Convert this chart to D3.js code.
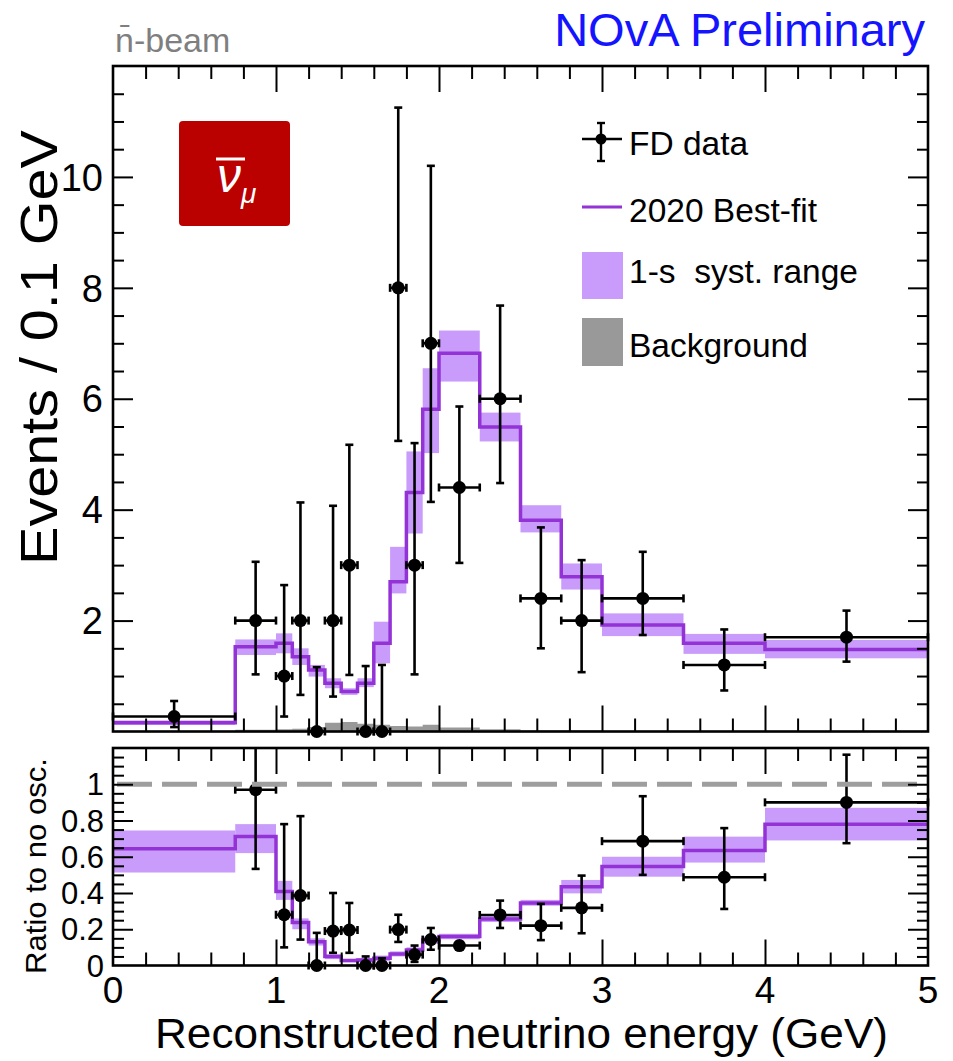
<!DOCTYPE html>
<html><head><meta charset="utf-8">
<script src="https://cdn.jsdelivr.net/npm/d3@7"></script>
<style>
body{margin:0;background:#fff}
svg{display:block}
text{font-family:"Liberation Sans",Arial,Helvetica,sans-serif}
</style>
</head><body>
<svg id="c" width="953" height="1061"></svg>
<script>
// ---------- data ----------
const binEdges = [0,0.75,1.0,1.1,1.2,1.3,1.4,1.5,1.6,1.7,1.8,1.9,2.0,2.25,2.5,2.75,3.0,3.5,4.0,5.0];
const bestFit  = [0.16,1.53,1.59,1.35,1.11,0.87,0.72,0.87,1.59,2.70,4.31,5.81,6.82,5.49,3.81,2.79,1.92,1.59,1.48];
const bandLo   = [0.12,1.38,1.41,1.20,0.99,0.78,0.66,0.80,1.23,2.49,3.57,5.02,6.31,5.23,3.59,2.56,1.72,1.40,1.32];
const bandHi   = [0.20,1.66,1.77,1.50,1.20,0.96,0.78,0.96,1.98,3.33,5.05,6.55,7.23,5.75,4.08,3.03,2.13,1.76,1.65];
const background = [0.01,0.03,0.04,0.05,0.08,0.16,0.17,0.14,0.12,0.10,0.09,0.12,0.07,0.04,0.02,0.02,0.01,0.01,0.005];

const dataX    = [0.375,0.875,1.05,1.15,1.25,1.35,1.45,1.55,1.65,1.75,1.85,1.95,2.125,2.375,2.625,2.875,3.25,3.75,4.5];
const dataY    = [0.27,2,1,2,0,2,3,0,0,8,3,7,4.4,6,2.4,2,2.4,1.2,1.7];
const dataLo   = [0.08,1.03,0.27,0.66,0,0.63,1.02,0,0,5.24,1.03,4.14,3.04,4.48,1.50,1.07,1.74,0.74,1.26];
const dataHi   = [0.55,3.06,2.64,4.13,1.16,4.07,5.17,1.18,1.20,11.25,5.20,10.2,5.86,7.68,3.68,3.09,3.24,1.84,2.18];

const ratioFit = [0.644,0.712,0.408,0.237,0.131,0.049,0.027,0.030,0.040,0.064,0.086,0.141,0.160,0.257,0.345,0.435,0.546,0.634,0.780];
const ratioLo  = [0.513,0.620,0.362,0.200,0.110,0.035,0.018,0.020,0.025,0.050,0.070,0.120,0.145,0.240,0.330,0.398,0.490,0.568,0.690];
const ratioHi  = [0.745,0.780,0.467,0.260,0.150,0.062,0.036,0.040,0.055,0.078,0.100,0.160,0.175,0.272,0.362,0.472,0.600,0.711,0.870];

const ratioX   = [0.875,1.05,1.15,1.25,1.35,1.45,1.55,1.65,1.75,1.85,1.95,2.125,2.375,2.625,2.875,3.25,3.75,4.5];
const ratioY   = [0.97,0.28,0.386,0,0.19,0.196,0,0,0.198,0.06,0.143,0.11,0.279,0.22,0.318,0.686,0.487,0.90];
const ratioELo = [0.533,0.10,0.143,0,0.07,0.07,0,0,0.13,0.02,0.087,0.09,0.207,0.14,0.178,0.50,0.312,0.675];
const ratioEHi = [1.40,0.78,0.824,0.18,0.40,0.345,0.05,0.04,0.28,0.11,0.207,0.13,0.358,0.34,0.496,0.934,0.758,1.163];

const xTickLabels = ["0","1","2","3","4","5"];
const yTopLabels = [2,4,6,8,10];
const yBotLabels = [0,0.2,0.4,0.6,0.8,1];

// ---------- layout ----------
const svg = d3.select("#c");
const L=113, R=928, T1=66, B1=731.5, T2=748, B2=965.5;
const x  = d3.scaleLinear().domain([0,5]).range([L,R]);
const y1 = d3.scaleLinear().domain([0,12]).range([B1,T1]);
const y2 = d3.scaleLinear().domain([0,1.2]).range([B2,T2]);

const purple = "#9333d6", bandCol = "#c99cfb", gray = "#999999";

function binIdx(){ return d3.range(binEdges.length-1); }

function drawHist(g, y, vals, lo, hi, bg) {
  g.selectAll(null).data(binIdx()).join("rect")
    .attr("x", i=>x(binEdges[i])).attr("width", i=>x(binEdges[i+1])-x(binEdges[i]))
    .attr("y", i=>y(hi[i])).attr("height", i=>y(lo[i])-y(hi[i]))
    .attr("fill", bandCol);
  if (bg) {
    const pts = binIdx().map(i=>[binEdges[i], bg[i]]);
    pts.push([binEdges[binEdges.length-1], bg[bg.length-1]]);
    const area = d3.area().curve(d3.curveStepAfter).x(d=>x(d[0])).y0(y(0)).y1(d=>y(d[1]));
    g.append("path").attr("d", area(pts)).attr("fill", gray);
  }
  const pts = binIdx().map(i=>[binEdges[i], vals[i]]);
  pts.push([binEdges[binEdges.length-1], vals[vals.length-1]]);
  const line = d3.line().curve(d3.curveStepAfter).x(d=>x(d[0])).y(d=>y(d[1]));
  g.append("path").attr("d", line(pts)).attr("fill","none")
    .attr("stroke", purple).attr("stroke-width", 3.5);
}

function xRange(xc){
  for (let i=0;i<binEdges.length-1;i++) if (xc>binEdges[i] && xc<binEdges[i+1]) return [binEdges[i],binEdges[i+1]];
  return [xc,xc];
}

function drawPoints(g, y, xs, ys, los, his, ymax) {
  const cap = 4;
  xs.forEach((xv,i)=>{
    const [a,b] = xRange(xv);
    const px = x(xv), py = y(ys[i]);
    const top = y(Math.min(his[i], ymax)), bot = y(los[i]);
    const gg = g.append("g").attr("stroke","#000").attr("stroke-width",2.6);
    gg.append("line").attr("x1",px).attr("x2",px).attr("y1",top).attr("y2",bot);
    if (his[i] <= ymax) gg.append("line").attr("x1",px-cap).attr("x2",px+cap).attr("y1",top).attr("y2",top);
    gg.append("line").attr("x1",px-cap).attr("x2",px+cap).attr("y1",bot).attr("y2",bot);
    gg.append("line").attr("x1",x(a)).attr("x2",x(b)).attr("y1",py).attr("y2",py);
    gg.append("line").attr("x1",x(a)).attr("x2",x(a)).attr("y1",py-cap).attr("y2",py+cap);
    gg.append("line").attr("x1",x(b)).attr("x2",x(b)).attr("y1",py-cap).attr("y2",py+cap);
    g.append("circle").attr("cx",px).attr("cy",py).attr("r",6.5).attr("fill","#000");
  });
}

function drawFrame(top, bot, y, yMaj, yMin) {
  const g = svg.append("g").attr("stroke","#000");
  const xMaj=[1,2,3,4];
  const xMin=d3.range(1,25).map(k=>k*0.2).filter(v=>Math.abs(v-Math.round(v))>1e-6);
  const addAxis = (axis, tr) => {
    const a = g.append("g").attr("transform", tr).call(axis);
    a.select(".domain").remove();
    a.selectAll("line").attr("stroke","#000").attr("stroke-width",2);
  };
  addAxis(d3.axisBottom(x).tickValues(xMaj).tickSize(-26).tickFormat(""), `translate(0,${bot})`);
  addAxis(d3.axisBottom(x).tickValues(xMin).tickSize(-13).tickFormat(""), `translate(0,${bot})`);
  addAxis(d3.axisTop(x).tickValues(xMaj).tickSize(-26).tickFormat(""), `translate(0,${top})`);
  addAxis(d3.axisTop(x).tickValues(xMin).tickSize(-13).tickFormat(""), `translate(0,${top})`);
  addAxis(d3.axisLeft(y).tickValues(yMaj).tickSize(-20).tickFormat(""), `translate(${L},0)`);
  addAxis(d3.axisLeft(y).tickValues(yMin).tickSize(-11).tickFormat(""), `translate(${L},0)`);
  addAxis(d3.axisRight(y).tickValues(yMaj).tickSize(-20).tickFormat(""), `translate(${R},0)`);
  addAxis(d3.axisRight(y).tickValues(yMin).tickSize(-11).tickFormat(""), `translate(${R},0)`);
  g.append("rect").attr("x",L).attr("y",top).attr("width",R-L).attr("height",bot-top)
    .attr("fill","none").attr("stroke","#000").attr("stroke-width",2.6);
}

// ---------- top panel ----------
const gTop = svg.append("g");
drawHist(gTop, y1, bestFit, bandLo, bandHi, background);
drawFrame(T1, B1, y1, [2,4,6,8,10], d3.range(1,24).map(k=>k*0.5).filter(v=>v%2!==0));
drawPoints(gTop, y1, dataX, dataY, dataLo, dataHi, 12);

svg.append("g").selectAll("text").data(yTopLabels).join("text")
  .attr("x", 103).attr("y", d=>y1(d)).attr("dy","0.36em")
  .attr("text-anchor","end").attr("font-size",38).text(d=>d);

// ---------- bottom panel ----------
const gBot = svg.append("g");
svg.append("line").attr("x1",x(0)+4).attr("x2",R-8).attr("y1",y2(1)).attr("y2",y2(1))
  .attr("stroke","#9e9e9e").attr("stroke-width",5).attr("stroke-dasharray","35,10");
drawHist(gBot, y2, ratioFit, ratioLo, ratioHi, null);
drawFrame(T2, B2, y2, [0.2,0.4,0.6,0.8,1.0], d3.range(1,24).map(k=>k*0.05).filter(v=>Math.abs(v*5-Math.round(v*5))>1e-6));
drawPoints(gBot, y2, ratioX, ratioY, ratioELo, ratioEHi, 1.2);

svg.append("g").selectAll("text").data(yBotLabels).join("text")
  .attr("x", 104).attr("y", d=>y2(d)).attr("dy","0.36em")
  .attr("text-anchor","end").attr("font-size",31).text(d=>d);

svg.append("g").selectAll("text").data(xTickLabels).join("text")
  .attr("x", (d,i)=>x(i)).attr("y", 1003)
  .attr("text-anchor","middle").attr("font-size",37).text(d=>d);

// titles
svg.append("text").attr("x", 888).attr("y", 1048).attr("text-anchor","end")
  .attr("font-size",42).attr("textLength",733).attr("lengthAdjust","spacingAndGlyphs")
  .text("Reconstructed neutrino energy (GeV)");
svg.append("text").attr("transform","translate(57,130) rotate(-90)").attr("text-anchor","end")
  .attr("font-size",52).attr("textLength",435).attr("lengthAdjust","spacingAndGlyphs")
  .text("Events / 0.1 GeV");
svg.append("text").attr("transform","translate(46,758) rotate(-90)").attr("text-anchor","end")
  .attr("font-size",29).attr("textLength",216).attr("lengthAdjust","spacingAndGlyphs")
  .text("Ratio to no osc.");

svg.append("text").attr("x",925).attr("y",46).attr("text-anchor","end")
  .attr("font-size",47).attr("fill","#1414ff").text("NOvA Preliminary");
svg.append("text").attr("x",115).attr("y",52)
  .attr("font-size",34).attr("fill","#7f7f7f").text("n\u0304-beam");

// red box with nu-bar mu
svg.append("rect").attr("x",179).attr("y",121).attr("width",111).attr("height",105).attr("rx",4)
  .attr("fill","#bb0000");
const nu = svg.append("text").attr("x",217).attr("y",192).attr("font-size",48).attr("font-style","italic")
  .attr("fill","#fff");
nu.append("tspan").text("ν");
nu.append("tspan").attr("font-size",28).attr("dy",11).text("μ");
svg.append("line").attr("x1",216).attr("x2",245).attr("y1",159).attr("y2",159)
  .attr("stroke","#fff").attr("stroke-width",3);

// legend
const lg = svg.append("g").attr("font-size",33.5);
const lx0=582, lx1=622, lmx=601;
lg.append("g").attr("stroke","#000").attr("stroke-width",2.4).call(s=>{
  s.append("line").attr("x1",lx0).attr("x2",lx1).attr("y1",139).attr("y2",139);
  s.append("line").attr("x1",lmx).attr("x2",lmx).attr("y1",123).attr("y2",161);
  s.append("line").attr("x1",lmx-4).attr("x2",lmx+4).attr("y1",123).attr("y2",123);
  s.append("line").attr("x1",lmx-4).attr("x2",lmx+4).attr("y1",161).attr("y2",161);
});
lg.append("circle").attr("cx",lmx).attr("cy",139).attr("r",5.5).attr("fill","#000");
lg.append("text").attr("x",629).attr("y",155).text("FD data");
lg.append("line").attr("x1",lx0).attr("x2",lx1).attr("y1",207).attr("y2",207)
  .attr("stroke",purple).attr("stroke-width",3);
lg.append("text").attr("x",629).attr("y",222).text("2020 Best-fit");
lg.append("rect").attr("x",lx0).attr("y",252).attr("width",41).attr("height",47).attr("fill",bandCol);
lg.append("text").attr("x",629).attr("y",283).text("1-s\u00a0\u00a0syst. range");
lg.append("rect").attr("x",lx0).attr("y",318).attr("width",41).attr("height",48).attr("fill",gray);
lg.append("text").attr("x",629).attr("y",357).text("Background");
</script>
</body></html>
